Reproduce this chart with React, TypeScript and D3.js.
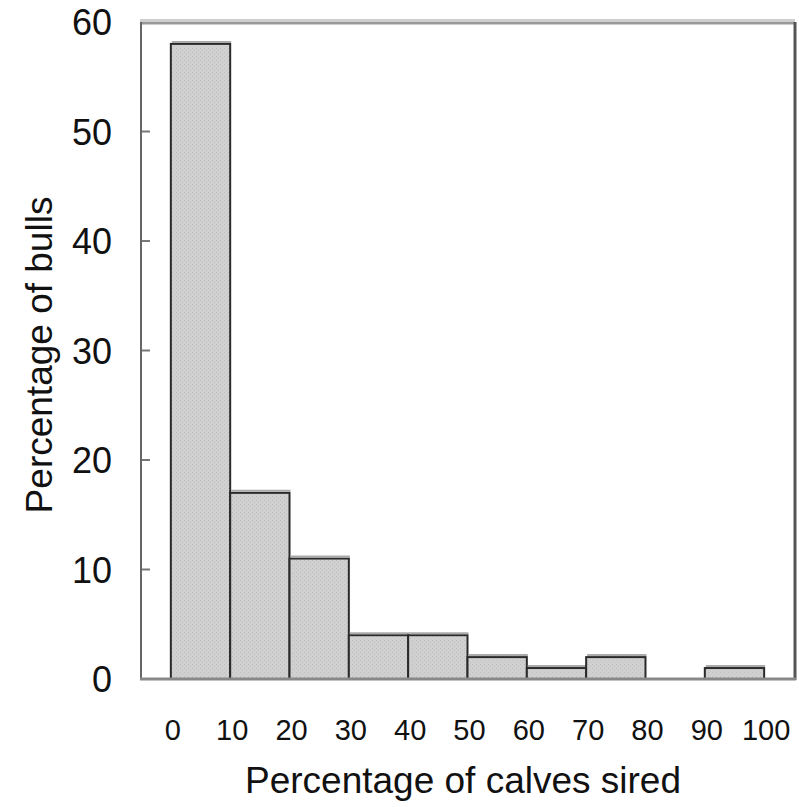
import React from 'react'
import * as d3 from 'd3'

const binStarts = [0, 10, 20, 30, 40, 50, 60, 70, 80, 90]
const bullPercent = [58, 17, 11, 4, 4, 2, 1, 2, 0, 1]
const xTicks = [0, 10, 20, 30, 40, 50, 60, 70, 80, 90, 100]
const yTicks = [0, 10, 20, 30, 40, 50, 60]

const W = 799
const H = 807

export default function App() {
  const x = d3.scaleLinear().domain([-5.2, 105.2]).range([140, 795])
  const y = d3.scaleLinear().domain([0, 60]).range([679, 22])
  const font = 'Liberation Sans, Arial, sans-serif'

  return (
    <svg width={W} height={H} style={{ position: 'absolute', left: 0, top: 0 }}>
      <defs>
        <pattern id="stip" width="4" height="4" patternUnits="userSpaceOnUse">
          <rect width="4" height="4" fill="#d0d0d0" />
          <rect x="0" y="0" width="1" height="1" fill="#bdbdbd" />
          <rect x="2" y="2" width="1" height="1" fill="#c2c2c2" />
        </pattern>
      </defs>
      <rect width={W} height={H} fill="#fff" />
      {/* frame */}
      <line x1={140} x2={795} y1={20} y2={20} stroke="#cfcfcf" strokeWidth={2} />
      <line x1={140} x2={795} y1={23} y2={23} stroke="#999" strokeWidth={3} />
      <line x1={141} x2={141} y1={22} y2={680} stroke="#666" strokeWidth={2} />
      <line x1={795} x2={795} y1={22} y2={680} stroke="#555" strokeWidth={3} />
      {yTicks.slice(1, -1).map(t => (
        <line key={t} x1={142} x2={150} y1={y(t)} y2={y(t)} stroke="#777" strokeWidth={2} />
      ))}
      {/* bars */}
      {binStarts.map((b, i) => {
        const v = bullPercent[i]
        if (v === 0) return null
        const x0 = x(b), x1 = x(b + 10), yt = y(v)
        return (
          <g key={b}>
            <rect x={x0} y={yt} width={x1 - x0} height={y(0) - yt} fill="url(#stip)" stroke="#2a2a2a" strokeWidth={2} />
            <line x1={x0 + 1} x2={x1 + 1} y1={yt - 2} y2={yt - 2} stroke="#aaa" strokeWidth={2} />
          </g>
        )
      })}
      <line x1={140} x2={796} y1={679} y2={679} stroke="#888" strokeWidth={3} />
      {/* y tick labels */}
      {yTicks.map(t => (
        <text key={t} x={112} y={y(t) + 13} textAnchor="end" fontFamily={font} fontSize={36} fill="#111">
          {t}
        </text>
      ))}
      {/* x tick labels */}
      {xTicks.map(t => (
        <text key={t} x={x(t) + 2} y={740} textAnchor="middle" fontFamily={font} fontSize={29} fill="#111">
          {t}
        </text>
      ))}
      <text x={463} y={793} textAnchor="middle" fontFamily={font} fontSize={37} fill="#111">
        Percentage of calves sired
      </text>
      <text transform={`translate(52,355) rotate(-90)`} textAnchor="middle" fontFamily={font} fontSize={37} fill="#111">
        Percentage of bulls
      </text>
    </svg>
  )
}
